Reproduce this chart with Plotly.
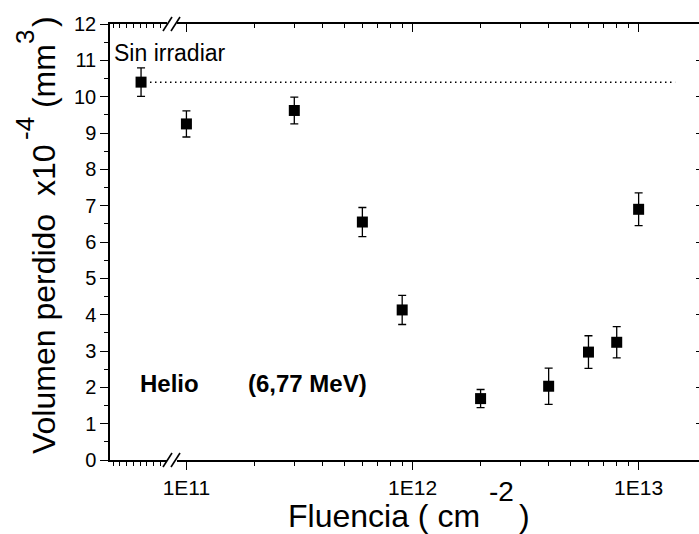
import numpy as np
import plotly.graph_objects as go

# Fluence (cm^-2) and lost volume (x1e-4 mm^3) for He ions at 6.77 MeV
fluence = [1e11, 3e11, 6e11, 9e11, 2e12, 4e12, 6e12, 8e12, 1e13]
volume = [9.25, 9.62, 6.55, 4.13, 1.69, 2.03, 2.97, 3.24, 6.90]
volume_err = [0.36, 0.37, 0.40, 0.40, 0.25, 0.50, 0.45, 0.43, 0.45]

# Unirradiated reference sample, drawn left of the axis break
ref_x = 6.3e10
ref_volume = 10.40
ref_err = 0.39
ref_line_x = [6.9e10, 1.45e13]

x_range_log = [10.662, 13.267]
y_range = [0, 12]
major_x = [1e11, 1e12, 1e13]
major_x_text = ["1E11", "1E12", "1E13"]
minor_x = [m * 10.0 ** d for d in (11, 12) for m in range(2, 10)]
# short ticks on the segment before the break
pre_break_ticks = list(10 ** np.linspace(10.676, 10.885, 8))

FONT = "Liberation Sans, Arial, sans-serif"
BLACK = "black"

fig = go.Figure()

fig.add_trace(go.Scatter(
    x=ref_line_x, y=[ref_volume, ref_volume], mode="lines",
    line=dict(color=BLACK, width=1.5, dash="1.5px,3.5px"), showlegend=False,
    hoverinfo="skip"))

fig.add_trace(go.Scatter(
    x=[ref_x], y=[ref_volume], mode="markers",
    marker=dict(symbol="square", size=11, color=BLACK),
    error_y=dict(type="data", array=[ref_err], color=BLACK, thickness=1.3, width=4),
    showlegend=False))

fig.add_trace(go.Scatter(
    x=fluence, y=volume, mode="markers",
    marker=dict(symbol="square", size=11, color=BLACK),
    error_y=dict(type="data", array=volume_err, color=BLACK, thickness=1.3, width=4),
    showlegend=False))

# invisible trace to carry the mirrored top / right axes
fig.add_trace(go.Scatter(x=[1e12], y=[5], xaxis="x2", yaxis="y2", mode="markers",
                         marker=dict(opacity=0), showlegend=False, hoverinfo="skip"))

fig.update_layout(
    width=699, height=534,
    margin=dict(l=110, r=0, t=24, b=74),
    paper_bgcolor="white", plot_bgcolor="white",
    xaxis=dict(
        type="log", range=x_range_log, showgrid=False, zeroline=False,
        showline=True, linecolor=BLACK, linewidth=1.5,
        ticks="outside", ticklen=8, tickwidth=1.3, tickcolor=BLACK,
        tickmode="array", tickvals=major_x, ticktext=major_x_text,
        tickfont=dict(family=FONT, size=21, color=BLACK),
        minor=dict(tickmode="array", tickvals=minor_x + pre_break_ticks,
                   ticks="outside", ticklen=4, tickwidth=1.1, tickcolor=BLACK,
                   showgrid=False),
    ),
    xaxis2=dict(
        type="log", range=x_range_log, overlaying="x", side="top", anchor="y",
        showgrid=False, zeroline=False, showline=True, linecolor=BLACK, linewidth=1.5,
        ticks="inside", ticklen=8, tickwidth=1.3, tickcolor=BLACK,
        tickmode="array", tickvals=major_x, showticklabels=False,
        minor=dict(tickmode="array", tickvals=minor_x + pre_break_ticks,
                   ticks="inside", ticklen=4, tickwidth=1.1, tickcolor=BLACK,
                   showgrid=False),
    ),
    yaxis=dict(
        range=y_range, showgrid=False, zeroline=False,
        showline=True, linecolor=BLACK, linewidth=1.5,
        ticks="outside", ticklen=8, tickwidth=1.3, tickcolor=BLACK,
        dtick=1, tick0=0, tickfont=dict(family=FONT, size=20, color=BLACK),
        minor=dict(dtick=0.5, ticks="outside", ticklen=4, tickwidth=1.1,
                   tickcolor=BLACK, showgrid=False),
    ),
    yaxis2=dict(
        range=y_range, overlaying="y", side="right", anchor="x",
        showgrid=False, zeroline=False, showline=False,
        ticks="inside", ticklen=3, tickwidth=1.3, tickcolor=BLACK,
        dtick=1, tick0=0, showticklabels=False,
    ),
)

# pixel helpers for decorations placed in paper coordinates
PLOT_L, PLOT_T, PLOT_W, PLOT_H = 110.0, 24.0, 589.0, 436.0
def px(xp):
    return (xp - PLOT_L) / PLOT_W

def py(yp):
    return (PLOT_T + PLOT_H - yp) / PLOT_H

# axis-break marks on bottom and top axes
for y_axis in (0.0, 1.0):
    fig.add_shape(type="rect", xref="paper", yref="paper",
                  x0=px(167), x1=px(177), y0=y_axis - 2.5 / PLOT_H, y1=y_axis + 2.5 / PLOT_H,
                  fillcolor="white", line=dict(width=0), layer="above")
    for x0 in (163, 171):
        fig.add_shape(type="line", xref="paper", yref="paper",
                      x0=px(x0), x1=px(x0 + 9),
                      y0=y_axis - 7 / PLOT_H, y1=y_axis + 7 / PLOT_H,
                      line=dict(color=BLACK, width=1.6), layer="above")


def label(text, x, y, size, bold=False, angle=0):
    fig.add_annotation(text=f"<b>{text}</b>" if bold else text,
                       xref="paper", yref="paper", x=px(x), y=py(y),
                       xanchor="center", yanchor="middle", textangle=angle,
                       showarrow=False, borderpad=0,
                       font=dict(family=FONT, size=size, color=BLACK))


label("Sin irradiar", 170, 53, 23)
label("Helio", 169, 383, 24, bold=True)
label("(6,77 MeV)", 307, 383, 24, bold=True)

# x-axis title with raised exponent
label("Fluencia ( cm", 384, 516, 32)
label("-2", 501, 491, 28)
label(")", 524, 516, 32)

# y-axis title (rotated) with raised exponents
label("Volumen perdido  x10", 44, 299, 32, angle=-90)
label("-4", 25, 129, 26, angle=-90)
label(" (mm", 44, 81, 32, angle=-90)
label("3", 25, 37, 26, angle=-90)
label(")", 44, 22, 32, angle=-90)

fig.write_html("out.html")
